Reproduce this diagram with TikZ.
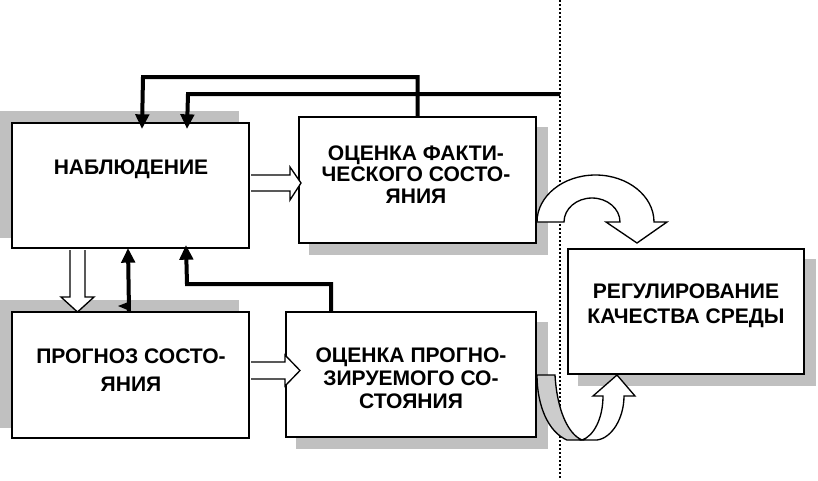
\documentclass[tikz,border=0pt]{standalone}
\usepackage{fontspec}
\setmainfont{Liberation Sans}
\usetikzlibrary{arrows.meta,backgrounds,calc}
\definecolor{shadowgrey}{HTML}{C0C0C0}
\definecolor{bandgrey}{HTML}{CCCCCC}
\begin{document}
\begin{tikzpicture}[x=0.75pt,y=-0.75pt,
  box/.style={draw,line width=1.5pt,fill=white,inner sep=0pt},
  lbl/.style={align=center,inner sep=0pt,anchor=base},
  thk/.style={line width=3pt,line join=miter,-{Triangle[width=10pt,length=11pt]}},
  hollow/.style={fill=white,draw=black,line width=1pt,line join=miter},
]
\useasboundingbox (0,0) rectangle (818,480);
% boxes
\node[box,minimum width=177.75pt,minimum height=93.75pt] (nab) at (130.5,185.5) {};
\node[box,minimum width=177.75pt,minimum height=94.5pt] (fact) at (417.5,180) {};
\node[box,minimum width=177.75pt,minimum height=94.5pt] (prog) at (130.5,375) {};
\node[box,minimum width=187.5pt,minimum height=93.75pt] (est) at (411,374.5) {};
\node[box,minimum width=177pt,minimum height=93.75pt] (reg) at (686,311.5) {};
% shadows and background
\begin{scope}[on background layer]
  \fill[white] (0,0) rectangle (818,480);
  \fill[shadowgrey] ($(nab.south west)+(-11,-11)$) rectangle ($(nab.north east)+(-11,-11)$);
  \fill[shadowgrey] ($(prog.south west)+(-11,-11)$) rectangle ($(prog.north east)+(-11,-11)$);
  \fill[shadowgrey] ($(fact.south west)+(11,11)$) rectangle ($(fact.north east)+(11,11)$);
  \fill[shadowgrey] ($(est.south west)+(11,11)$) rectangle ($(est.north east)+(11,11)$);
  \fill[shadowgrey] ($(reg.south west)+(11,11)$) rectangle ($(reg.north east)+(11,11)$);
\end{scope}
% dotted divider
\coordinate (dtop) at (560,0);
\coordinate (dbot) at (560,480);
\draw[line width=1.1pt,dash pattern=on 1.5pt off 1.5pt] (dtop) -- (dbot);
\coordinate (feed) at (560,94);
% thick feedback arrows
\draw[thk] (fact.north) -- (fact.north |- 0,77) -- (143,77) -- ($(nab.north west)+(131,7)$);
\draw[thk] (feed) -- (188,94) -- ($(nab.north west)+(176,7)$);
\draw[thk] (est.north -| 331,0) -- (331,284) -- (187,284) -- ($(nab.south west)+(175,-4)$);
\draw[thk] (prog.north -| 129,0) -- ($(nab.south west)+(117,-1)$);
\fill ($(prog.north west)+(107,-5)$) -- ($(prog.north west)+(120,-10)$) -- ($(prog.north west)+(119,0)$) -- cycle;
% hollow arrows
\filldraw[hollow] ($(nab.east |- 0,175)+(1,0)$) -- (290,175) -- (290,167) -- (301,183) -- (290,200) -- (290,191) -- ($(nab.east |- 0,191)+(1,0)$);
\filldraw[hollow] ($(prog.east |- 0,362)+(1,0)$) -- (285,362) -- (285,355) -- (300,370.5) -- (285,386) -- (285,379) -- ($(prog.east |- 0,379)+(1,0)$);
\filldraw[hollow] ($(nab.south -| 70,0)+(0,1)$) -- (70,297) -- (61,297) -- (77.5,312) -- (94,297) -- (85,297) -- ($(nab.south -| 85,0)+(0,1)$);
% curved arrow: actual state -> regulation
\filldraw[hollow] (fact.east |- 0,222) arc[start angle=180,end angle=360,x radius=58.5,y radius=47]
  -- (667,222) -- (637,243) -- (606,222) -- (620,222)
  arc[start angle=0,end angle=-180,x radius=28,y radius=24] -- cycle;
% curved twisted arrow: forecast estimate -> regulation
\filldraw[hollow,fill=bandgrey] (est.east |- 0,375) -- (555,375) .. controls (557,410) and (568,434) .. (582,440)
  -- (567,440) .. controls (548,432) and (537,405) .. (est.east |- 0,375) -- cycle;
\filldraw[hollow] (582,440) .. controls (594,436) and (603,418) .. (603,396) -- (593,396) -- (reg.south -| 617,0)
  -- (635,396) -- (624,396) .. controls (624,418) and (612,438) .. (597,440) -- cycle;
% texts
\node[lbl,font=\bfseries\fontsize{15.8}{16.5}\selectfont] (tnab) at (131,174) {НАБЛЮДЕНИЕ};
\node[lbl,font=\bfseries\fontsize{15.8}{16.1}\selectfont] (tfact) at (416,203) {ОЦЕНКА ФАКТИ-\\ЧЕСКОГО СОСТО-\\ЯНИЯ};
\node[lbl,font=\bfseries\fontsize{15.8}{21}\selectfont] (tprog) at (131,391) {ПРОГНОЗ СОСТО-\\ЯНИЯ};
\node[lbl,font=\bfseries\fontsize{15.8}{17.25}\selectfont] (test) at (411,408) {ОЦЕНКА ПРОГНО-\\ЗИРУЕМОГО СО-\\СТОЯНИЯ};
\node[lbl,font=\bfseries\fontsize{15.8}{18.75}\selectfont] (treg) at (686,323) {РЕГУЛИРОВАНИЕ\\КАЧЕСТВА СРЕДЫ};
\end{tikzpicture}
\end{document}
